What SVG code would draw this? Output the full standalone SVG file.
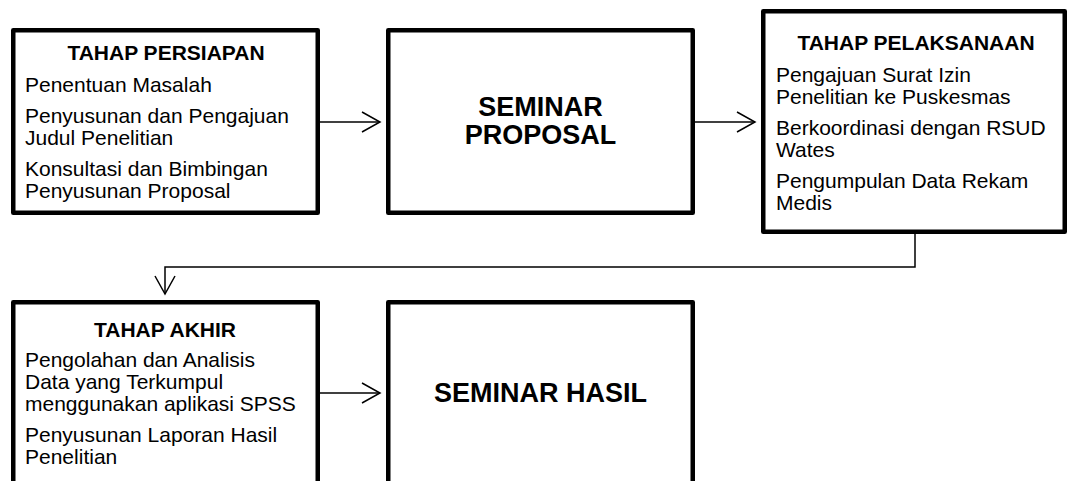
<svg xmlns="http://www.w3.org/2000/svg" width="1068" height="481" viewBox="0 0 1068 481">
<defs>
<style>
.box{fill:#fff;stroke:#000;stroke-width:4.5;stroke-linejoin:round}
.h{font-family:"Liberation Sans",Arial,sans-serif;font-weight:bold;font-size:21px;fill:#000;text-anchor:middle}
.t{font-family:"Liberation Sans",Arial,sans-serif;font-size:21px;fill:#000}
.big{font-family:"Liberation Sans",Arial,sans-serif;font-weight:bold;font-size:27px;fill:#000;text-anchor:middle}
.c{fill:none;stroke:#000;stroke-width:1.5}
</style>
<marker id="arr" markerUnits="userSpaceOnUse" markerWidth="22" markerHeight="24" refX="18" refY="11" orient="auto" viewBox="-1 0 22 22">
<path d="M0,1 L18,11 L0,21" fill="none" stroke="#000" stroke-width="1.5"/>
</marker>
</defs>
<rect width="1068" height="481" fill="#fff"/>
<g id="connectors">
<path class="c" d="M320,122 H380" marker-end="url(#arr)"/>
<path class="c" d="M695,122 H755" marker-end="url(#arr)"/>
<path class="c" d="M915,234 V267 H165 V294" marker-end="url(#arr)"/>
<path class="c" d="M320,393 H380" marker-end="url(#arr)"/>
</g>
<g id="persiapan">
<rect class="box" x="13.25" y="30.25" width="304.5" height="182.5"/>
<text class="h" x="166" y="60">TAHAP PERSIAPAN</text>
<text class="t" x="25" y="91.7">Penentuan Masalah</text>
<text class="t" x="25" y="122.7">Penyusunan dan Pengajuan</text>
<text class="t" x="25" y="144.7">Judul Penelitian</text>
<text class="t" x="25" y="175.7">Konsultasi dan Bimbingan</text>
<text class="t" x="25" y="197.7">Penyusunan Proposal</text>
</g>
<g id="seminar-proposal">
<rect class="box" x="388.25" y="30.25" width="304.5" height="182.5"/>
<text class="big" x="540.5" y="115.5">SEMINAR</text>
<text class="big" x="540.5" y="144">PROPOSAL</text>
</g>
<g id="pelaksanaan">
<rect class="box" x="763.25" y="11.25" width="301.5" height="220.5"/>
<text class="h" x="916" y="50">TAHAP PELAKSANAAN</text>
<text class="t" x="776" y="81.7">Pengajuan Surat Izin</text>
<text class="t" x="776" y="103.7">Penelitian ke Puskesmas</text>
<text class="t" x="776" y="134.7">Berkoordinasi dengan RSUD</text>
<text class="t" x="776" y="156.7">Wates</text>
<text class="t" x="776" y="187.7">Pengumpulan Data Rekam</text>
<text class="t" x="776" y="209.7">Medis</text>
</g>
<g id="akhir">
<rect class="box" x="13.25" y="302.25" width="304.5" height="200"/>
<text class="h" x="165" y="336.7">TAHAP AKHIR</text>
<text class="t" x="25" y="366.7">Pengolahan dan Analisis</text>
<text class="t" x="25" y="388.7">Data yang Terkumpul</text>
<text class="t" x="25" y="410.7">menggunakan aplikasi SPSS</text>
<text class="t" x="25" y="441.7">Penyusunan Laporan Hasil</text>
<text class="t" x="25" y="463.7">Penelitian</text>
</g>
<g id="seminar-hasil">
<rect class="box" x="388.25" y="302.25" width="304.5" height="200"/>
<text class="big" x="540.5" y="401.5">SEMINAR HASIL</text>
</g>
</svg>
